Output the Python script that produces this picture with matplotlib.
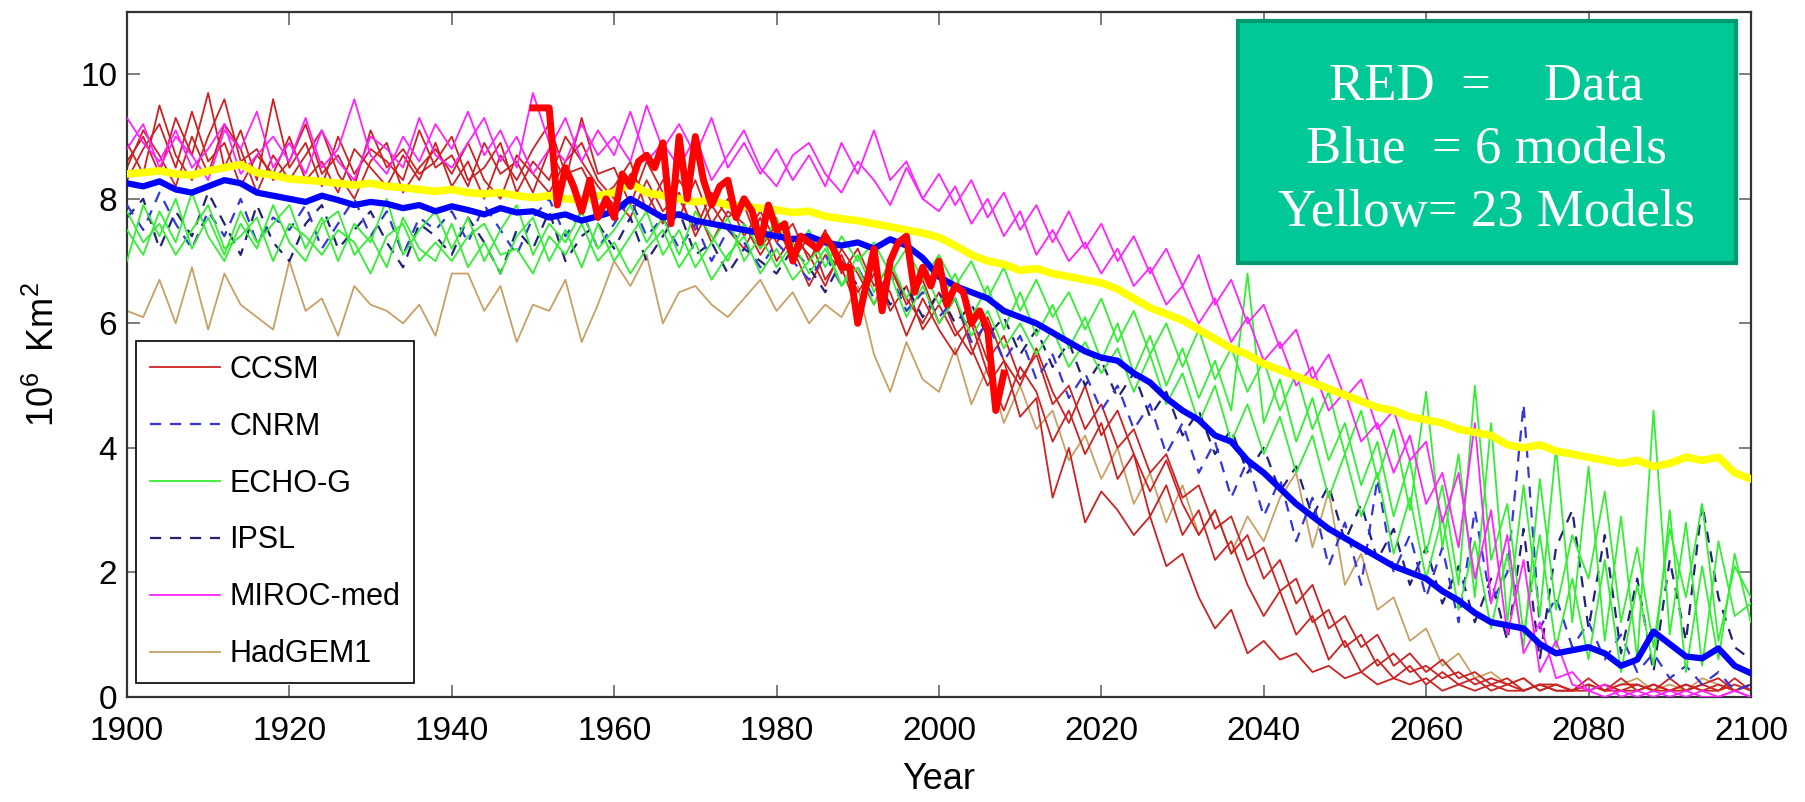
from matplotlib import pyplot as plt
from matplotlib import font_manager
from matplotlib.patches import Rectangle

# the picture uses a tall narrow Helvetica, use the narrow Liberation face if present
have_narrow = any(f.name == 'Liberation Sans Narrow' for f in font_manager.fontManager.ttflist)
if have_narrow:
    sans, tick_fs, leg_fs, lab_fs = 'Liberation Sans Narrow', 30, 27, 30
else:
    sans, tick_fs, leg_fs, lab_fs = 'Liberation Sans', 24, 22, 26

plt.rcParams['font.family'] = [sans, 'Liberation Sans', 'DejaVu Sans']
plt.rcParams['mathtext.default'] = 'regular'

# years of the model runs (every 2 years) and of the observations
years = list(range(1900, 2101, 2))
obs_years = list(range(1950, 2009))

# sea ice extent, 10^6 km^2
ccsm_a = [8.6, 9.0, 8.4, 9.3, 8.7, 9.7, 8.5, 9.1, 8.3, 9.6,
          8.5, 8.9, 8.2, 9.0, 8.4, 8.8, 8.6, 8.3, 9.1, 8.5,
          8.7, 8.2, 8.9, 8.4, 8.6, 8.1, 8.8, 8.3, 9.3, 8.4,
          8.5, 7.9, 8.6, 8.1, 7.7, 8.3, 7.6, 8.0, 7.4, 7.8,
          7.3, 7.6, 7.0, 7.5, 6.8, 7.2, 6.6, 6.9, 6.3, 6.7,
          6.0, 6.4, 5.6, 5.0, 5.4, 4.5, 4.8, 3.2, 4.0, 2.8,
          3.3, 3.0, 2.6, 2.9, 2.1, 2.3, 1.6, 1.1, 1.4, 0.7,
          0.9, 0.6, 0.7, 0.4, 0.5, 0.3, 0.4, 0.2, 0.3, 0.2,
          0.3, 0.1, 0.2, 0.1, 0.2, 0.1, 0.1, 0.2, 0.1, 0.1,
          0.2, 0.1, 0.1, 0.2, 0.1, 0.1, 0.2, 0.1, 0.1, 0.2,
          0.1]
ccsm_b = [8.3, 8.8, 9.2, 8.5, 9.4, 8.6, 8.9, 8.2, 8.7, 8.4,
          9.0, 8.3, 8.6, 8.1, 8.8, 8.5, 8.2, 8.7, 8.3, 8.9,
          8.2, 8.6, 8.0, 8.7, 8.3, 8.8, 9.2, 8.4, 8.5, 8.0,
          8.2, 8.6, 7.8, 8.3, 8.0, 7.5, 8.1, 7.7, 7.9, 7.2,
          7.6, 7.0, 7.4, 6.7, 7.1, 6.5, 6.9, 6.2, 6.6, 5.9,
          6.3, 5.8, 6.1, 5.4, 5.8, 5.1, 5.5, 4.7, 5.0, 4.3,
          4.7, 4.0, 4.3, 3.6, 3.9, 3.2, 3.4, 2.7, 2.9, 2.2,
          2.4, 1.7, 1.9, 1.2, 1.4, 0.8, 1.0, 0.5, 0.7, 0.4,
          0.5, 0.3, 0.4, 0.2, 0.3, 0.2, 0.1, 0.2, 0.1, 0.1,
          0.1, 0.2, 0.1, 0.1, 0.2, 0.1, 0.2, 0.1, 0.2, 0.1,
          0.2]
ccsm_c = [8.9, 8.4, 9.5, 8.7, 8.3, 9.0, 9.6, 8.6, 8.8, 8.3,
          8.6, 9.2, 8.4, 8.7, 8.2, 9.1, 8.5, 8.8, 8.4, 8.6,
          9.0, 8.3, 8.5, 8.9, 8.1, 8.6, 8.3, 9.0, 8.6, 8.2,
          7.9, 8.4, 8.1, 7.6, 8.3, 7.9, 7.3, 7.8, 7.6, 7.1,
          7.5, 7.2, 6.6, 7.1, 6.9, 6.2, 6.8, 6.5, 5.8, 6.4,
          5.9, 5.5, 6.0, 5.2, 4.6, 5.3, 4.9, 4.1, 4.6, 3.9,
          4.4, 3.5, 3.9, 2.9, 3.4, 2.6, 3.0, 2.2, 2.5, 1.8,
          1.3, 1.7, 1.0, 1.3, 0.6, 0.9, 0.4, 0.6, 0.3, 0.5,
          0.2, 0.4, 0.2, 0.3, 0.1, 0.2, 0.3, 0.1, 0.2, 0.1,
          0.2, 0.1, 0.3, 0.1, 0.2, 0.1, 0.1, 0.2, 0.1, 0.3,
          0.1]
ccsm_d = [8.5, 9.1, 8.7, 8.2, 9.0, 8.4, 9.2, 8.8, 8.1, 8.7,
          8.3, 8.7, 9.1, 8.4, 8.0, 8.6, 8.9, 8.1, 8.5, 8.8,
          8.4, 8.9, 8.3, 8.0, 8.7, 8.4, 8.1, 8.6, 8.9, 8.3,
          8.0, 7.7, 8.3, 7.8, 8.1, 7.4, 7.9, 7.5, 7.2, 7.7,
          7.0, 7.4, 7.1, 6.6, 7.2, 6.8, 6.3, 6.9, 6.4, 6.0,
          6.5, 5.9, 5.5, 6.1, 5.4, 5.0, 5.6, 4.9, 4.4, 5.0,
          4.2, 4.6, 3.9, 3.3, 3.8, 3.1, 2.6, 3.0, 2.3, 2.6,
          1.9, 2.2, 1.5, 1.8, 1.1, 1.3, 0.8, 1.0, 0.5, 0.7,
          0.4, 0.6, 0.3, 0.4, 0.2, 0.3, 0.1, 0.2, 0.2, 0.1,
          0.3, 0.1, 0.2, 0.2, 0.1, 0.3, 0.1, 0.2, 0.3, 0.1,
          0.2]
cnrm = [7.9, 7.5, 8.1, 7.6, 7.2, 7.8, 7.4, 8.0, 7.3, 7.7,
        7.5, 7.9, 7.2, 7.6, 8.0, 7.4, 7.8, 7.1, 7.7, 7.5,
        7.8, 7.3, 7.9, 7.5, 7.1, 7.7, 8.0, 7.4, 7.8, 7.2,
        7.6, 8.0, 7.4, 7.7, 7.2, 7.6, 7.0, 7.5, 7.3, 6.9,
        7.3, 7.0, 6.7, 7.1, 6.6, 6.9, 6.4, 6.8, 6.2, 6.5,
        6.1, 6.4, 5.7, 6.0, 5.4, 5.8, 5.1, 5.5, 4.8, 5.2,
        4.6, 5.0, 4.3, 4.7, 3.9, 4.4, 3.6, 4.1, 3.2, 3.8,
        2.9, 3.5, 2.5, 3.2, 2.1, 2.8, 1.8, 3.5, 2.0, 2.6,
        1.6, 2.4, 1.2, 3.0, 1.5, 2.0, 4.7, 1.1, 1.6, 0.8,
        1.2, 0.6, 1.0, 0.4, 0.7, 0.3, 0.5, 0.2, 0.4, 0.1,
        0.2]
echo_a = [7.0, 7.9, 7.4, 8.0, 7.2, 7.7, 7.1, 7.8, 7.3, 7.6,
          7.9, 7.2, 7.7, 7.0, 7.6, 7.3, 8.0, 7.1, 7.5, 7.8,
          7.2, 7.7, 7.0, 7.5, 7.9, 7.1, 7.6, 7.3, 7.8, 7.2,
          7.5, 7.9, 7.3, 7.7, 7.1, 7.8, 7.4, 7.0, 7.6, 7.2,
          7.7, 7.1, 7.5, 6.9, 7.4, 7.0, 7.3, 6.8, 7.2, 6.7,
          7.1, 6.6, 7.0, 6.4, 6.9, 6.2, 6.7, 6.1, 6.5, 5.9,
          6.4, 5.7, 6.2, 5.5, 6.0, 5.3, 5.9, 5.1, 5.6, 4.9,
          5.4, 4.6, 5.2, 4.3, 4.9, 3.9, 4.6, 3.5, 4.3, 3.0,
          4.9, 2.4, 3.9, 1.6, 4.4, 1.2, 3.4, 1.3, 4.0, 1.2,
          3.7, 0.9, 2.9, 0.6, 4.6, 1.0, 2.8, 0.5, 2.5, 1.3,
          1.5]
echo_b = [7.5, 7.1, 7.8, 7.3, 8.1, 7.4, 7.0, 7.6, 7.2, 7.9,
          7.3, 7.0, 7.6, 7.8, 7.1, 7.4, 6.9, 7.7, 7.2, 7.0,
          7.6, 6.9, 7.3, 6.8, 7.4, 7.7, 7.0, 7.5, 6.9, 7.6,
          7.0, 7.4, 7.8, 7.1, 7.5, 6.9, 7.3, 7.7, 7.0, 7.4,
          6.9, 7.3, 6.8, 7.2, 6.6, 7.1, 6.5, 7.0, 6.4, 6.9,
          6.3, 6.8, 6.1, 6.6, 5.9, 6.5, 5.8, 6.3, 5.6, 6.1,
          5.4, 6.0, 5.2, 5.8, 5.0, 5.6, 4.8, 5.4, 4.6, 6.8,
          4.4, 5.1, 4.1, 4.8, 3.8, 4.4, 3.4, 4.1, 2.9, 3.8,
          2.3, 3.4, 1.8, 5.0, 2.2, 3.1, 1.0, 2.6, 0.8, 1.9,
          0.6, 2.2, 0.4, 1.8, 0.5, 3.0, 0.4, 2.1, 0.6, 2.3,
          1.2]
echo_c = [7.8, 7.3, 7.6, 7.1, 7.5, 7.9, 7.2, 7.4, 7.7, 7.0,
          7.6, 7.4, 7.1, 7.5, 7.3, 6.8, 7.4, 7.6, 7.0, 7.3,
          7.0, 7.4, 7.6, 7.1, 7.2, 6.8, 7.4, 7.1, 7.6, 7.0,
          7.3, 6.8, 7.2, 7.5, 6.9, 7.3, 6.7, 7.1, 7.4, 6.8,
          7.2, 6.7, 7.0, 7.3, 6.6, 6.9, 6.3, 6.8, 6.1, 6.6,
          6.0, 6.4, 5.8, 6.2, 5.6, 6.0, 5.5, 5.9, 5.3, 5.7,
          5.2, 5.6, 4.9, 5.5, 4.7, 5.2, 4.4, 5.0, 4.1, 4.7,
          3.9, 4.5, 3.6, 4.2, 3.2, 3.9, 2.9, 3.6, 2.3, 3.2,
          1.9, 2.9, 1.4, 2.5, 1.1, 2.3, 0.8, 3.5, 1.4, 2.6,
          1.9, 3.3, 1.2, 2.4, 0.8, 2.7, 1.6, 3.1, 0.9, 2.1,
          1.6]
ipsl = [7.7, 8.0, 7.2, 7.8, 7.4, 8.1, 7.6, 7.1, 7.9, 7.3,
        7.0, 7.6, 7.9, 7.2, 7.5, 7.8, 7.3, 6.9, 7.6, 7.4,
        7.1, 7.7, 7.3, 6.8, 7.5, 7.2, 7.8, 7.0, 7.4, 7.6,
        7.2, 7.7, 7.0, 7.4, 7.8, 7.1, 7.3, 6.8, 7.2, 7.0,
        6.8, 7.2, 6.9, 6.5, 7.0, 6.6, 6.8, 6.3, 6.6, 6.1,
        6.5, 6.0, 6.3, 5.8, 6.1, 5.5, 5.9, 5.3, 5.7, 5.0,
        5.4, 4.8, 5.2, 4.5, 4.9, 4.2, 4.6, 3.9, 4.3, 3.6,
        4.0, 3.3, 3.7, 2.9, 3.4, 2.5, 3.1, 2.2, 2.7, 1.8,
        2.4, 1.5, 2.1, 1.2, 1.9, 0.9, 2.7, 0.6, 2.4, 3.0,
        1.1, 2.6, 0.7, 1.9, 0.4, 2.2, 0.9, 3.1, 1.6, 0.8,
        0.6]
miroc_a = [9.3, 8.9, 8.6, 9.1, 8.5, 8.8, 9.2, 8.4, 8.7, 9.0,
           8.6, 9.3, 8.5, 8.8, 9.6, 8.7, 8.4, 9.0, 8.6, 9.2,
           8.8, 9.4, 8.7, 9.1, 8.5, 9.7, 8.9, 8.6, 9.2, 8.7,
           9.0, 8.6, 9.5, 8.8, 9.2, 8.7, 9.3, 8.5, 8.9, 8.4,
           8.8, 8.3, 8.7, 8.2, 8.9, 8.4, 9.1, 8.3, 8.6, 8.0,
           8.4, 7.9, 8.3, 7.7, 8.1, 7.5, 7.9, 7.3, 7.8, 7.2,
           7.6, 7.0, 7.4, 6.8, 7.2, 6.6, 7.1, 6.3, 6.7, 6.0,
           6.3, 5.6, 5.9, 5.1, 5.5, 4.8, 5.1, 4.3, 4.6, 3.8,
           4.1, 2.8, 3.6, 1.9, 3.0, 1.0, 2.2, 0.4, 0.9, 0.2,
           0.1, 0.2, 0.0, 0.1, 0.0, 0.1, 0.0, 0.1, 0.0, 0.1,
           0.0]
miroc_b = [8.8, 9.2, 8.5, 9.0, 8.7, 8.3, 9.1, 8.8, 9.4, 8.5,
           8.9, 8.4, 9.1, 8.6, 8.3, 9.0, 8.8, 8.5, 9.3, 8.7,
           8.5, 8.9, 9.3, 8.6, 9.0, 8.4, 8.8, 9.3, 8.6, 9.1,
           8.7, 9.4, 8.6, 8.9, 8.5, 9.0, 8.3, 8.7, 9.1, 8.5,
           8.2, 8.7, 8.9, 8.4, 8.1, 8.6, 8.3, 7.9, 8.5, 8.0,
           7.8, 8.2, 7.6, 8.0, 7.4, 7.8, 7.1, 7.5, 7.0, 7.3,
           6.8, 7.2, 6.6, 6.9, 6.3, 6.6, 6.0, 6.4, 5.7, 6.1,
           5.4, 5.7, 5.0, 5.3, 4.6, 4.9, 4.1, 4.4, 3.6, 4.2,
           3.1, 3.6, 2.4, 4.4, 1.5, 2.6, 0.7, 1.2, 0.3, 0.4,
           0.1, 0.0, 0.1, 0.0, 0.1, 0.0, 0.1, 0.0, 0.0, 0.1,
           0.0]
hadgem = [6.2, 6.1, 6.7, 6.0, 6.9, 5.9, 6.8, 6.3, 6.1, 5.9,
          7.0, 6.2, 6.4, 5.8, 6.6, 6.3, 6.2, 6.0, 6.3, 5.8,
          6.8, 6.8, 6.2, 6.6, 5.7, 6.3, 6.2, 6.7, 5.7, 6.3,
          7.0, 6.6, 7.1, 6.0, 6.5, 6.6, 6.3, 6.1, 6.4, 6.7,
          6.2, 6.5, 6.0, 6.3, 6.1, 6.6, 5.5, 4.9, 5.7, 5.1,
          4.9, 5.6, 4.7, 5.3, 4.4, 5.0, 4.3, 4.6, 3.8, 4.2,
          3.5, 4.0, 3.1, 3.6, 2.8, 3.4, 2.6, 3.0, 2.3, 2.9,
          2.5, 3.2, 3.6, 2.4, 3.3, 1.8, 2.3, 1.4, 1.6, 0.9,
          1.1, 0.5, 0.7, 0.3, 0.4, 0.2, 0.3, 0.1, 0.2, 0.1,
          0.2, 0.1, 0.2, 0.3, 0.1, 0.2, 0.1, 0.3, 0.2, 0.1,
          0.2]

# multi model means
mean_6 = [8.25, 8.20, 8.28, 8.15, 8.10, 8.20, 8.30, 8.25, 8.10, 8.05,
          8.00, 7.95, 8.05, 7.98, 7.90, 7.95, 7.92, 7.85, 7.90, 7.80,
          7.88, 7.82, 7.75, 7.85, 7.78, 7.80, 7.70, 7.75, 7.65, 7.72,
          7.80, 8.00, 7.85, 7.70, 7.75, 7.65, 7.60, 7.55, 7.50, 7.45,
          7.40, 7.35, 7.40, 7.30, 7.25, 7.30, 7.20, 7.35, 7.25, 7.05,
          6.75, 6.60, 6.50, 6.40, 6.20, 6.10, 6.00, 5.85, 5.70, 5.55,
          5.45, 5.40, 5.20, 5.05, 4.80, 4.60, 4.45, 4.20, 4.10, 3.80,
          3.60, 3.35, 3.10, 2.90, 2.70, 2.55, 2.40, 2.25, 2.10, 2.00,
          1.90, 1.70, 1.55, 1.35, 1.20, 1.15, 1.10, 0.85, 0.70, 0.75,
          0.80, 0.70, 0.50, 0.60, 1.05, 0.85, 0.65, 0.62, 0.78, 0.50,
          0.38]
mean_23 = [8.40, 8.42, 8.45, 8.40, 8.38, 8.45, 8.50, 8.55, 8.42, 8.38,
           8.32, 8.30, 8.28, 8.25, 8.22, 8.25, 8.20, 8.18, 8.15, 8.12,
           8.15, 8.10, 8.08, 8.10, 8.05, 8.02, 8.05, 8.00, 7.98, 8.05,
           8.10, 8.25, 8.10, 8.05, 8.00, 7.95, 7.98, 7.90, 7.88, 7.85,
           7.82, 7.78, 7.80, 7.72, 7.68, 7.65, 7.60, 7.55, 7.50, 7.45,
           7.38, 7.25, 7.10, 7.00, 6.95, 6.85, 6.88, 6.80, 6.75, 6.70,
           6.65, 6.55, 6.40, 6.25, 6.15, 6.05, 5.90, 5.75, 5.60, 5.50,
           5.35, 5.25, 5.15, 5.05, 4.95, 4.85, 4.75, 4.65, 4.60, 4.50,
           4.45, 4.40, 4.30, 4.25, 4.20, 4.05, 4.00, 4.05, 3.95, 3.90,
           3.85, 3.80, 3.75, 3.80, 3.70, 3.75, 3.85, 3.80, 3.85, 3.60,
           3.50]

# observations, yearly
observed = [9.46, 9.46, 9.46, 7.90, 8.50, 8.20, 7.80, 8.30, 7.70, 8.00,
            7.70, 8.40, 8.20, 8.60, 8.70, 8.50, 8.90, 7.60, 9.00, 8.00,
            9.00, 8.30, 7.90, 8.20, 8.30, 7.70, 8.00, 7.80, 7.30, 7.90,
            7.50, 7.60, 7.00, 7.40, 7.30, 7.20, 7.40, 7.20, 6.90, 6.90,
            6.00, 6.60, 7.20, 6.20, 7.00, 7.30, 7.40, 6.50, 6.90, 6.60,
            7.00, 6.30, 6.60, 6.50, 6.00, 6.20, 5.90, 4.60, 5.20]

fig = plt.figure(figsize=(18.06, 8.02), dpi=100)
ax = fig.add_axes([0.0703, 0.131, 0.8992, 0.854])

thin = 1.3
# model runs, one legend entry per model
ax.plot(years, hadgem, color='#C8A064', lw=thin, label='HadGEM1', zorder=2)
for i, run in enumerate([ccsm_a, ccsm_b, ccsm_c, ccsm_d]):
    ax.plot(years, run, color='#CC2222', lw=thin, zorder=2,
            label='CCSM' if i == 0 else None)
ax.plot(years, ipsl, color='#22227A', lw=1.6, ls=(0, (5, 4)), label='IPSL', zorder=3)
ax.plot(years, cnrm, color='#3535E0', lw=1.6, ls=(0, (5, 4)), label='CNRM', zorder=3)
for i, run in enumerate([echo_a, echo_b, echo_c]):
    ax.plot(years, run, color='#33EE33', lw=thin, zorder=3,
            label='ECHO-G' if i == 0 else None)
for i, run in enumerate([miroc_a, miroc_b]):
    ax.plot(years, run, color='#FF22FF', lw=thin, zorder=3,
            label='MIROC-med' if i == 0 else None)

# means and data on top
ax.plot(years, mean_23, color='#FFFF00', lw=5.5, zorder=5)
ax.plot(years, mean_6, color='#0000FF', lw=4.5, zorder=6)
ax.plot(obs_years, observed, color='#FF0000', lw=5.0, zorder=7)

ax.set_xlim(1900, 2100)
ax.set_ylim(0, 11)
ax.set_xticks(range(1900, 2101, 20))
ax.set_yticks(range(0, 11, 2))
ax.tick_params(direction='in', length=9, width=1.2, labelsize=tick_fs,
               top=True, right=True, color='#666666')
ax.tick_params(axis='x', pad=11 if have_narrow else 14)
ax.tick_params(axis='y', pad=7)
for s in ax.spines.values():
    s.set_linewidth(1.6)
    s.set_color('#333333')

ax.set_xlabel('Year', fontsize=lab_fs)
ax.xaxis.set_label_coords(0.5, -0.095)
ax.set_ylabel('10$^6$  Km$^2$', fontsize=lab_fs)
ax.yaxis.set_label_coords(-0.040, 0.5)

# legend in the same order as the picture
handles, labels = ax.get_legend_handles_labels()
order = ['CCSM', 'CNRM', 'ECHO-G', 'IPSL', 'MIROC-med', 'HadGEM1']
hmap = dict(zip(labels, handles))
leg = ax.legend([hmap[k] for k in order], order, loc='lower left',
                bbox_to_anchor=(0.0055, 0.0204), fontsize=leg_fs, fancybox=False,
                framealpha=1, edgecolor='black',
                handlelength=2.05 if have_narrow else 2.3,
                labelspacing=0.45 if have_narrow else 0.88,
                borderpad=0.45, handletextpad=0.3, borderaxespad=0)
leg.get_frame().set_linewidth(1.2)
leg.set_zorder(10)

# green note box
ax.add_patch(Rectangle((0.684, 0.634), 0.307, 0.353, transform=ax.transAxes,
                       facecolor='#00C896', edgecolor='#009A70', lw=3, zorder=11))
box_lines = ['RED  =    Data', 'Blue  = 6 models', 'Yellow= 23 Models']
for txt, yy in zip(box_lines, [0.892, 0.799, 0.707]):
    ax.text(0.837, yy, txt, transform=ax.transAxes, ha='center', va='center',
            color='white', fontsize=38, family=['Liberation Serif', 'DejaVu Serif'],
            zorder=12)

fig.savefig('out.png', dpi=100)
